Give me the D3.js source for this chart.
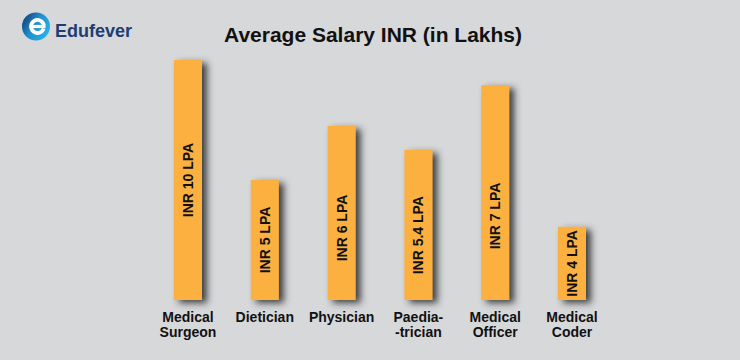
<!DOCTYPE html>
<html>
<head>
<meta charset="utf-8">
<script src="https://cdn.jsdelivr.net/npm/d3@7/dist/d3.min.js"></script>
<style>
  html, body { margin: 0; padding: 0; background: #d7d8da; }
  svg { display: block; }
  text { font-family: "Liberation Sans", Arial, Helvetica, sans-serif; }
</style>
</head>
<body>
<svg id="chart" width="740" height="360"></svg>
<script>
// ---- data ----
const categories = ["Medical Surgeon", "Dietician", "Physician", "Paedia- -trician", "Medical Officer", "Medical Coder"];
const categoryLines = [["Medical", "Surgeon"], ["Dietician"], ["Physician"], ["Paedia-", "-trician"], ["Medical", "Officer"], ["Medical", "Coder"]];
const salaries = [10, 5, 6, 5.4, 7, 4];               // INR lakhs per annum (bar labels)
const barLengths = [10, 5, 7.25, 6.25, 8.95, 3.05];   // bar lengths as drawn in the picture
const title = "Average Salary INR (in Lakhs)";
const brand = "Edufever";

// ---- drawing ----
const W = 740, H = 360;
const svg = d3.select("#chart");

svg.append("rect").attr("width", W).attr("height", H).attr("fill", "#d7d8da");

const defs = svg.append("defs");
const f = defs.append("filter").attr("id", "shadow")
  .attr("x", "-50%").attr("y", "-20%").attr("width", "250%").attr("height", "140%");
f.append("feDropShadow").attr("dx", 5).attr("dy", 3).attr("stdDeviation", 3.5)
  .attr("flood-color", "#2e2e2e").attr("flood-opacity", 0.9);

const grad = defs.append("linearGradient").attr("id", "logoGrad")
  .attr("x1", "0%").attr("y1", "20%").attr("x2", "100%").attr("y2", "80%");
grad.append("stop").attr("offset", "0%").attr("stop-color", "#123f7a");
grad.append("stop").attr("offset", "45%").attr("stop-color", "#1f8fcf");
grad.append("stop").attr("offset", "100%").attr("stop-color", "#2ab6e8");

// logo
const logo = svg.append("g").attr("transform", "translate(36,26.5)");
logo.append("circle").attr("r", 14).attr("fill", "url(#logoGrad)");
logo.append("path")
  .attr("d", d3.arc()({innerRadius: 4.6, outerRadius: 8.4, startAngle: Math.PI * 0.6, endAngle: Math.PI * 2.45}))
  .attr("fill", "#ffffff").attr("transform", "translate(1.5,0)");
logo.append("rect").attr("x", -5).attr("y", -1.6).attr("width", 14.5).attr("height", 3.2).attr("fill", "#ffffff");
svg.append("text").attr("x", 55).attr("y", 36.5)
  .attr("font-size", 18).attr("font-weight", "bold").attr("fill", "#1d3d74")
  .text(brand);

// title
svg.append("text").attr("x", 373).attr("y", 41.5).attr("text-anchor", "middle")
  .attr("font-size", 21).attr("font-weight", "bold").attr("fill", "#111")
  .text(title);

const x = d3.scalePoint().domain(categories).range([188, 572]);
const y = d3.scaleLinear().domain([0, 10]).range([300, 60]);
const barW = 28;

const data = categories.map((c, i) => ({ c, lines: categoryLines[i], salary: salaries[i], len: barLengths[i] }));

const g = svg.append("g");
g.selectAll("rect.bar").data(data).join("rect")
  .attr("class", "bar")
  .attr("x", d => x(d.c) - barW / 2)
  .attr("y", d => y(d.len))
  .attr("width", barW)
  .attr("height", d => y(0) - y(d.len))
  .attr("fill", "#fbb040")
  .attr("filter", "url(#shadow)");

g.selectAll("text.val").data(data).join("text")
  .attr("class", "val")
  .attr("transform", d => `translate(${x(d.c) + 5},${y(Math.min(d.salary, d.len) / 2)}) rotate(-90)`)
  .attr("text-anchor", "middle")
  .attr("font-size", 14).attr("font-weight", "bold").attr("fill", "#111")
  .text(d => `INR ${d.salary} LPA`);

const cats = g.selectAll("text.cat").data(data).join("text")
  .attr("class", "cat")
  .attr("text-anchor", "middle")
  .attr("font-size", 14).attr("font-weight", "bold").attr("fill", "#111");
cats.selectAll("tspan").data(d => d.lines.map(l => ({ l, cx: x(d.c) }))).join("tspan")
  .attr("x", t => t.cx)
  .attr("y", (t, i) => 321.5 + i * 15)
  .text(t => t.l);
</script>
</body>
</html>
